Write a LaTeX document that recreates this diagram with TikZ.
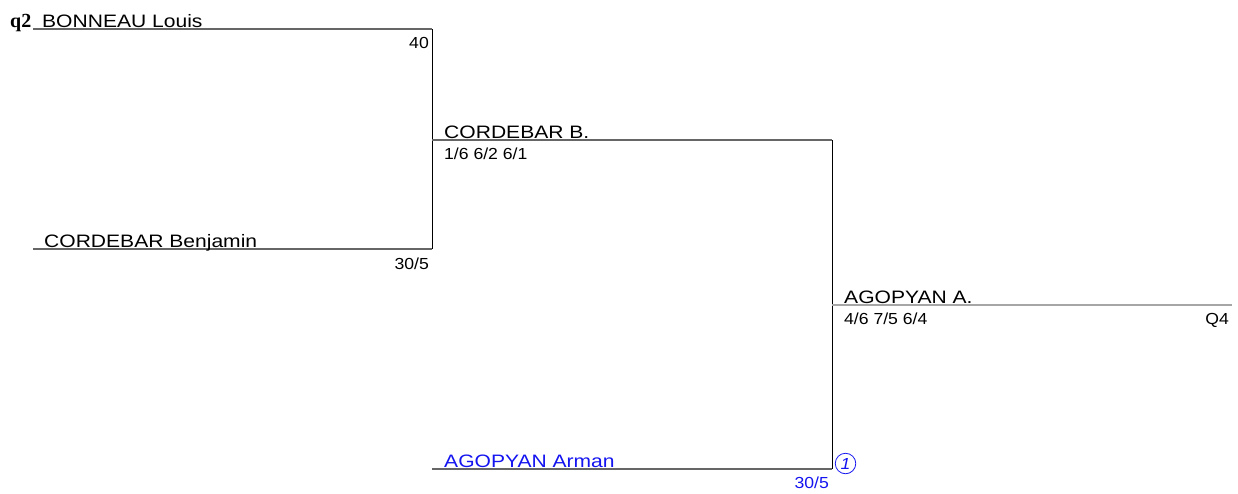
\documentclass[tikz,border=0pt]{standalone}
\usepackage{fontspec}
\setmainfont{Liberation Sans}
\newfontfamily\namefont[FakeStretch=1.17]{Liberation Sans}
\newfontfamily\numfont[FakeStretch=1.1]{Liberation Sans}
\newfontfamily\serifq{Liberation Serif}
\definecolor{drawblue}{RGB}{20,20,240}
\begin{document}
\begin{tikzpicture}[x=1pt,y=-1pt,
  hline/.style={draw=black!60,line width=1.4pt},
  vline/.style={draw=black,line width=0.9pt},
  pname/.style={anchor=base west,inner sep=0pt,font=\namefont\fontsize{18}{18}\selectfont},
  score/.style={anchor=base west,inner sep=0pt,font=\numfont\fontsize{16}{16}\selectfont},
  rank/.style={anchor=base east,inner sep=0pt,font=\numfont\fontsize{16}{16}\selectfont}]
\useasboundingbox (0,0) rectangle (1238,493);
% coordinates
\coordinate (a1) at (33,29);
\coordinate (a2) at (432,29);
\coordinate (b1) at (33,249);
\coordinate (b2) at (432,249);
\coordinate (c1) at (432,140);
\coordinate (c2) at (832,140);
\coordinate (d1) at (432,469);
\coordinate (d2) at (832,469);
\coordinate (e1) at (832,305);
\coordinate (e2) at (1232,305);
% lines
\draw[hline] (a1) -- (a2);
\draw[hline] (b1) -- (b2);
\draw[vline] (a2) -- (b2);
\draw[hline] (c1) -- (c2);
\draw[hline] (d1) -- (d2);
\draw[vline] (c2) -- (d2);
\draw[draw=black!35,line width=1.3pt] (e1) -- (e2);
% texts
\node[anchor=base west,inner sep=0pt,font=\serifq\bfseries\fontsize{20}{20}\selectfont] (q) at (10,27) {q2};
\node[pname] (n1) at (42,27) {BONNEAU Louis};
\node[rank] (r1) at (429,48) {40};
\node[pname] (n2) at (44,247) {CORDEBAR Benjamin};
\node[rank] (r2) at (429,269) {30/5};
\node[pname] (n3) at (444,138) {CORDEBAR B.};
\node[score] (s3) at (444,159) {1/6 6/2 6/1};
\node[pname] (n4) at (844,303) {AGOPYAN A.};
\node[score] (s4) at (844,324) {4/6 7/5 6/4};
\node[rank] (r4) at (1229,324) {Q4};
\node[pname,text=drawblue] (n5) at (444,467) {AGOPYAN Arman};
\node[rank,text=drawblue] (r5) at (829,488) {30/5};
\node[draw=drawblue,circle,line width=0.8pt,inner sep=0pt,minimum size=20.5pt,text=drawblue,font=\numfont\itshape\fontsize{16}{16}\selectfont] (seed) at (845.5,463.5) {1};
\end{tikzpicture}
\end{document}
